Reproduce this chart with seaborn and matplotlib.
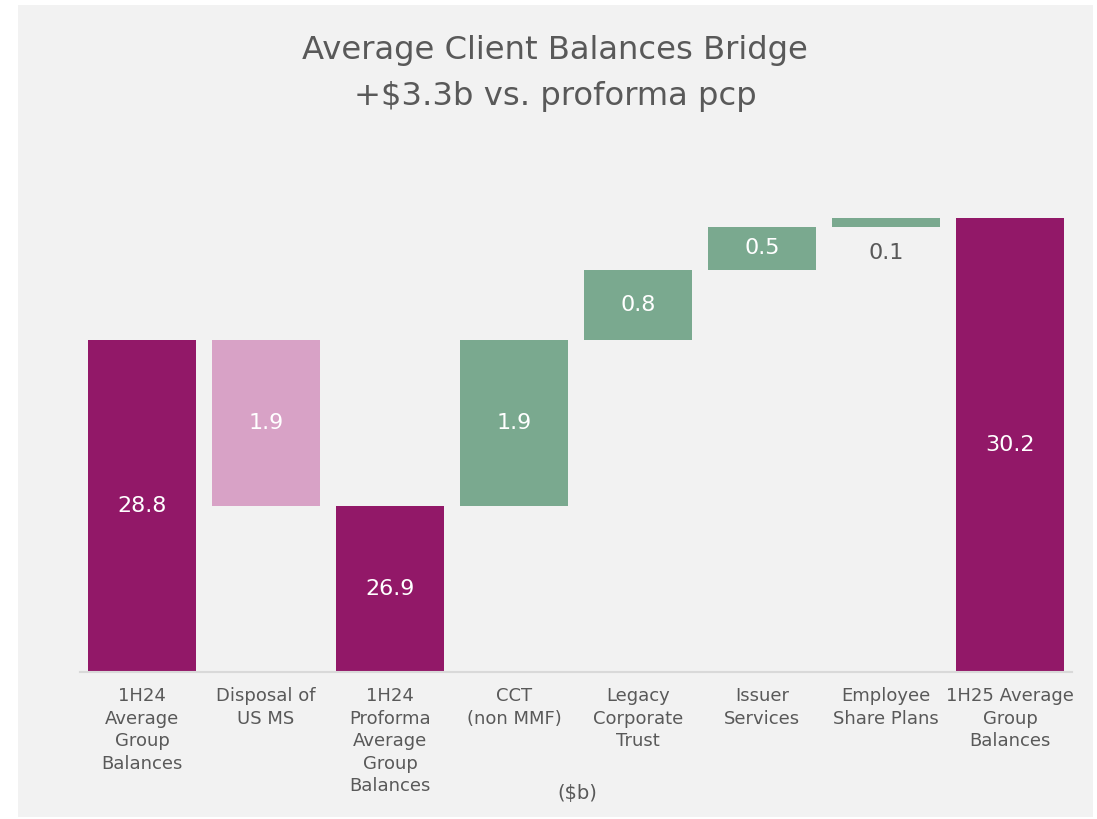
import matplotlib
matplotlib.use("Agg")
import matplotlib.pyplot as plt
from matplotlib.patches import Rectangle
import seaborn as sns
import pandas as pd

# Bridge steps and their values ($b)
categories = [
    "1H24\nAverage\nGroup\nBalances",
    "Disposal of\nUS MS",
    "1H24\nProforma\nAverage\nGroup\nBalances",
    "CCT\n(non MMF)",
    "Legacy\nCorporate\nTrust",
    "Issuer\nServices",
    "Employee\nShare Plans",
    "1H25 Average\nGroup\nBalances",
]
values = [28.8, -1.9, 26.9, 1.9, 0.8, 0.5, 0.1, 30.2]
step_kind = ["total", "neg", "total", "pos", "pos", "pos", "pos", "total"]
value_labels = ["28.8", "1.9", "26.9", "1.9", "0.8", "0.5", "0.1", "30.2"]

kind_colors = {"total": "#921868", "neg": "#D8A2C6", "pos": "#7AA98F"}
panel_bg = "#F2F2F2"
text_grey = "#595959"
y_floor = 25.0

# Running level -> bottom / height for each bar
bottoms, heights = [], []
level = 0.0
for v, k in zip(values, step_kind):
    if k == "total":
        bottoms.append(0.0)
        heights.append(v)
        level = v
    else:
        start, end = level, level + v
        bottoms.append(min(start, end))
        heights.append(abs(v))
        level = end

df = pd.DataFrame({"step": categories, "height": heights})
palette = {c: kind_colors[k] for c, k in zip(categories, step_kind)}

sns.set_theme(style="white")
plt.rcParams["font.family"] = ["DejaVu Sans"]

W, H = 1097, 819
fig = plt.figure(figsize=(W / 100, H / 100), dpi=100)
fig.patch.set_facecolor("white")
fig.patches.append(Rectangle((18 / W, 2 / H), (1093 - 18) / W, (814 - 2) / H,
                             transform=fig.transFigure, facecolor=panel_bg,
                             edgecolor="none", zorder=-5))

ax = fig.add_axes([80 / W, (H - 672) / H, 992 / W, (672 - 148) / H])
ax.set_facecolor("none")
ax.set_zorder(1)

sns.barplot(data=df, x="step", y="height", hue="step", palette=palette,
            order=categories, hue_order=categories, legend=False,
            width=0.87, saturation=1, linewidth=0, ax=ax)

for patch, b in zip(ax.patches, bottoms):
    patch.set_y(b)

ax.set_ylim(y_floor, 31.0)
ax.set_xlim(-0.5, len(categories) - 0.5)

# Value labels: centred in the visible bar, small step placed below its bar
for i, (b, h, lab, k) in enumerate(zip(bottoms, heights, value_labels, step_kind)):
    lo, hi = max(b, y_floor), b + h
    if h < 0.2:
        ax.text(i, lo - 0.3, lab, ha="center", va="center",
                fontsize=16, color=text_grey)
    else:
        ax.text(i, (lo + hi) / 2, lab, ha="center", va="center",
                fontsize=16, color="white")

ax.set_xlabel("")
ax.set_ylabel("")
ax.set_yticks([])
ax.tick_params(axis="x", length=0, pad=11, labelsize=13, labelcolor=text_grey)
for t in ax.get_xticklabels():
    t.set_linespacing(1.32)
for s in ["top", "right", "left"]:
    ax.spines[s].set_visible(False)
ax.spines["bottom"].set_color("#D9D9D9")
ax.spines["bottom"].set_linewidth(1.5)

fig.text(555 / W, 1 - 50 / H, "Average Client Balances Bridge", ha="center",
         va="center", fontsize=23.2, color=text_grey)
fig.text(555 / W, 1 - 97 / H, "+$3.3b vs. proforma pcp", ha="center",
         va="center", fontsize=23.2, color=text_grey)
fig.text(577 / W, 1 - 793 / H, "($b)", ha="center", va="center",
         fontsize=14, color=text_grey)

fig.savefig("out.png", dpi=100, facecolor=fig.get_facecolor())
